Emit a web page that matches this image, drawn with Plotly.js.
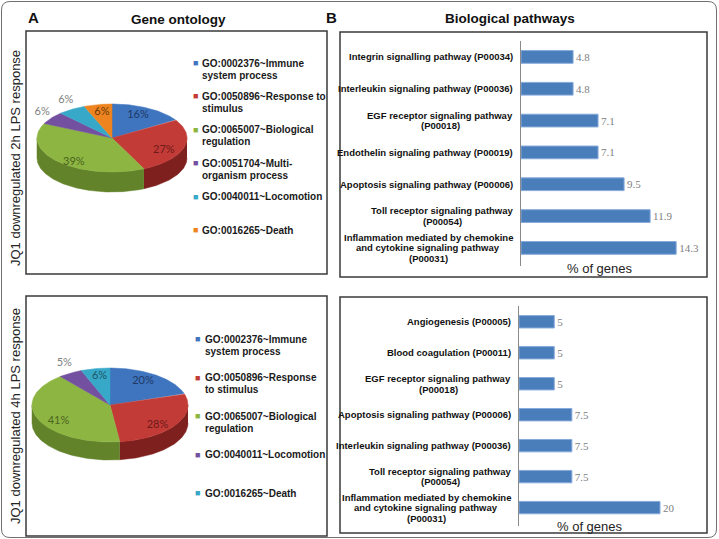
<!DOCTYPE html>
<html>
<head>
<meta charset="utf-8">
<script src="https://cdn.plot.ly/plotly-3.0.1.min.js"></script>
<style>
  html, body { margin: 0; padding: 0; background: #ffffff; }
  #fig { width: 719px; height: 539px; }
</style>
</head>
<body>
<div id="fig"></div>
<script>
// ---- Gene ontology shares (%), JQ1 downregulated genes ----
const goLegend2h = [
  "GO:0002376~Immune<br>system process",
  "GO:0050896~Response to<br>stimulus",
  "GO:0065007~Biological<br>regulation",
  "GO:0051704~Multi-<br>organism process",
  "GO:0040011~Locomotion",
  "GO:0016265~Death"
];
const goShare2h = [16, 27, 39, 6, 6, 6];

const goLegend4h = [
  "GO:0002376~Immune<br>system process",
  "GO:0050896~Response<br>to stimulus",
  "GO:0065007~Biological<br>regulation",
  "GO:0040011~Locomotion",
  "GO:0016265~Death"
];
const goShare4h = [20, 28, 41, 5, 6];

// ---- Panther pathways (% of genes) ----
const pathways2h = [
  "Integrin signalling pathway (P00034)",
  "Interleukin signaling pathway (P00036)",
  "EGF receptor signaling pathway<br>(P00018)",
  "Endothelin signaling pathway (P00019)",
  "Apoptosis signaling pathway (P00006)",
  "Toll receptor signaling pathway<br>(P00054)",
  "Inflammation mediated by chemokine<br>and cytokine signaling pathway<br>(P00031)"
];
const pathwayPct2h = [4.8, 4.8, 7.1, 7.1, 9.5, 11.9, 14.3];

const pathways4h = [
  "Angiogenesis (P00005)",
  "Blood coagulation (P00011)",
  "EGF receptor signaling pathway<br>(P00018)",
  "Apoptosis signaling pathway (P00006)",
  "Interleukin signaling pathway (P00036)",
  "Toll receptor signaling pathway<br>(P00054)",
  "Inflammation mediated by chemokine<br>and cytokine signaling pathway<br>(P00031)"
];
const pathwayPct4h = [5, 5, 5, 7.5, 7.5, 7.5, 20];

// ---- styling: series colours follow slice order ----
const faceColors = ['#3F74BE', '#C23B37', '#8DB542', '#7351A0', '#37A8C8', '#EE8420'];
const rimColors  = ['#2A5088', '#7E201E', '#62832A', '#4D3570', '#247A93', '#A85810'];
const inkColors  = ['#1E3A66', '#6E1A18', '#4A6420', '#3A2A5A', '#1D5566', '#6B3A08'];
const place2h = ['in', 'in', 'in', 'out', 'out', 'in'];
const place4h = ['in', 'in', 'in', 'out', 'in'];

const W = 719, H = 539;
const FONT = 'Liberation Sans, Arial, sans-serif';
const NARROW = 'Liberation Sans Narrow, Arial Narrow, Liberation Sans, sans-serif';

// Tilted pie: elliptical top face plus the visible front rim.
function tiltedPie(shares, placement, g) {
  const out = [];
  const total = shares.reduce((a, b) => a + b, 0);
  const TWO_PI = 2 * Math.PI, step = Math.PI / 180;
  const pt = (a, dy) => [g.cx + g.rx * Math.sin(a), g.cy - g.ry * Math.cos(a) + (dy || 0)];
  let acc = 0;
  const slices = shares.map(v => { const a0 = acc / total * TWO_PI; acc += v; return [a0, acc / total * TWO_PI]; });

  slices.forEach(([a0, a1], i) => {
    const s = Math.max(a0, Math.PI / 2), e = Math.min(a1, 1.5 * Math.PI);
    if (e <= s) return;
    const n = Math.max(2, Math.ceil((e - s) / step));
    const xs = [], ys = [];
    for (let k = 0; k <= n; k++) { const p = pt(s + (e - s) * k / n); xs.push(p[0]); ys.push(p[1]); }
    for (let k = n; k >= 0; k--) { const p = pt(s + (e - s) * k / n, g.depth); xs.push(p[0]); ys.push(p[1]); }
    const c = rimColors[i];
    out.push({ type: 'scatter', mode: 'lines', x: xs, y: ys, fill: 'toself', fillcolor: c,
               line: { color: c, width: 0.5 }, hoverinfo: 'skip', xaxis: 'x', yaxis: 'y' });
  });

  slices.forEach(([a0, a1], i) => {
    const n = Math.max(2, Math.ceil((a1 - a0) / step));
    const xs = [g.cx], ys = [g.cy];
    for (let k = 0; k <= n; k++) { const p = pt(a0 + (a1 - a0) * k / n); xs.push(p[0]); ys.push(p[1]); }
    xs.push(g.cx); ys.push(g.cy);
    const c = faceColors[i];
    out.push({ type: 'scatter', mode: 'lines', x: xs, y: ys, fill: 'toself', fillcolor: c,
               line: { color: c, width: 0.5 }, hoverinfo: 'skip', xaxis: 'x', yaxis: 'y' });
  });

  const lx = [], ly = [], lt = [], lc = [];
  slices.forEach(([a0, a1], i) => {
    const m = (a0 + a1) / 2, inside = placement[i] === 'in';
    const fx = inside ? 0.72 : 1.15, fy = inside ? 0.78 : 1.3;
    lx.push(g.cx + g.rx * fx * Math.sin(m));
    ly.push(g.cy - g.ry * fy * Math.cos(m) + (inside && Math.cos(m) < 0 ? 5 : 0));
    lt.push(Math.round(shares[i] / total * 100) + '%');
    lc.push(inside ? inkColors[i] : '#808080');
  });
  out.push({ type: 'scatter', mode: 'text', x: lx, y: ly, text: lt,
             textfont: { family: 'Lato, Open Sans, sans-serif', size: 11, color: lc },
             hoverinfo: 'skip', xaxis: 'x', yaxis: 'y' });
  return out;
}

// Legend entries drawn as coloured squares and bold text lines.
function legendNotes(labels, g) {
  const notes = [];
  labels.forEach((lab, i) => {
    const y0 = g.y0 + i * g.dy;
    notes.push({ xref: 'x', yref: 'y', x: g.mx, y: y0, text: '■', showarrow: false,
                 font: { family: FONT, size: 9, color: faceColors[i] }, xanchor: 'center', yanchor: 'middle' });
    lab.split('<br>').forEach((line, j) => {
      notes.push({ xref: 'x', yref: 'y', x: g.tx, y: y0 + j * 12, text: '<b>' + line + '</b>', showarrow: false,
                   font: { family: FONT, size: 10, color: '#1a1a1a' }, xanchor: 'left', yanchor: 'middle' });
    });
  });
  return notes;
}

function barTrace(names, vals, xa, ya) {
  return {
    type: 'bar', orientation: 'h', x: vals, y: names, xaxis: xa, yaxis: ya, width: 0.4,
    marker: { color: '#4A7EBB', line: { color: '#86AADB', width: 1 } },
    text: vals.map(String), textposition: 'outside', cliponaxis: false,
    textfont: { family: 'Liberation Serif, DejaVu Serif, serif', size: 11, color: '#808080' },
    hoverinfo: 'skip'
  };
}

// Category labels: each block centred on itself, right-aligned against the axis.
function pathwayNotes(names, xa, ya) {
  const notes = [];
  names.forEach((n, i) => {
    const lines = n.split('<br>');
    const widest = lines.reduce((a, b) => (b.length > a.length ? b : a), '');
    lines.forEach((line, j) => {
      notes.push({
        xref: xa, yref: ya, x: 0, y: i, xanchor: 'center', yanchor: 'middle',
        xshift: -8 - measure(widest) / 2, yshift: ((lines.length - 1) / 2 - j) * 10.6,
        showarrow: false, text: '<b>' + line + '</b>',
        font: { family: NARROW, size: 9.5, color: '#111111' }
      });
    });
  });
  return notes;
}

const ctx = document.createElement('canvas').getContext('2d');
function measure(s) {
  ctx.font = 'bold 9.5px ' + NARROW;
  return ctx.measureText(s).width;
}

const pie2h = { cx: 112, cy: 138, rx: 75, ry: 34, depth: 20 };
const pie4h = { cx: 110, cy: 405, rx: 78, ry: 37, depth: 18 };

const traces = [
  ...tiltedPie(goShare2h, place2h, pie2h),
  ...tiltedPie(goShare4h, place4h, pie4h),
  barTrace(pathways2h, pathwayPct2h, 'x2', 'y2'),
  barTrace(pathways4h, pathwayPct4h, 'x3', 'y3')
];

const box = (x0, y0, x1, y1) => ({ type: 'rect', xref: 'x', yref: 'y', x0, y0, x1, y1,
                                    line: { color: '#3a3a3a', width: 1.5 }, fillcolor: 'rgba(0,0,0,0)' });

const hidden = { visible: false, fixedrange: true };
const layout = {
  width: W, height: H,
  margin: { l: 0, r: 0, t: 0, b: 0 },
  paper_bgcolor: '#ffffff', plot_bgcolor: 'rgba(0,0,0,0)',
  showlegend: false,
  font: { family: FONT },
  xaxis: Object.assign({ domain: [0, 1], range: [0, W] }, hidden),
  yaxis: Object.assign({ domain: [0, 1], range: [H, 0] }, hidden),
  xaxis2: { domain: [521 / W, (521 + 17 * 10.85) / W], range: [0, 17], anchor: 'y2',
            showgrid: false, zeroline: false, showline: false, showticklabels: false, ticks: '', fixedrange: true },
  yaxis2: { domain: [1 - 266 / H, 1 - 41 / H], anchor: 'x2', type: 'category', autorange: 'reversed',
            showgrid: false, zeroline: false, showline: true, linecolor: '#8a8a8a', linewidth: 1,
            showticklabels: false, ticks: '', fixedrange: true },
  xaxis3: { domain: [519 / W, (519 + 26 * 7.05) / W], range: [0, 26], anchor: 'y3',
            showgrid: false, zeroline: false, showline: false, showticklabels: false, ticks: '', fixedrange: true },
  yaxis3: { domain: [1 - 525.7 / H, 1 - 306.3 / H], anchor: 'x3', type: 'category', autorange: 'reversed',
            showgrid: false, zeroline: false, showline: true, linecolor: '#8a8a8a', linewidth: 1,
            showticklabels: false, ticks: '', fixedrange: true },
  shapes: [
    { type: 'path', xref: 'x', yref: 'y',
      path: 'M 10 1.5 H 708 Q 716.5 1.5 716.5 10 V 529 Q 716.5 537.5 708 537.5 H 10 Q 1.5 537.5 1.5 529 V 10 Q 1.5 1.5 10 1.5 Z',
      line: { color: '#707070', width: 1 } },
    box(26, 31, 327, 274),
    box(340, 32, 707, 277),
    box(26, 296, 327, 536),
    box(340, 297, 707, 533)
  ],
  annotations: [
    { xref: 'x', yref: 'y', x: 26, y: 17, text: '<b>A</b>', showarrow: false, xanchor: 'left', yanchor: 'middle',
      font: { family: FONT, size: 15, color: '#111' } },
    { xref: 'x', yref: 'y', x: 178, y: 19, text: '<b>Gene ontology</b>', showarrow: false, xanchor: 'center', yanchor: 'middle',
      font: { family: FONT, size: 13.5, color: '#111' } },
    { xref: 'x', yref: 'y', x: 331, y: 17, text: '<b>B</b>', showarrow: false, xanchor: 'center', yanchor: 'middle',
      font: { family: FONT, size: 15, color: '#111' } },
    { xref: 'x', yref: 'y', x: 510, y: 18, text: '<b>Biological pathways</b>', showarrow: false, xanchor: 'center', yanchor: 'middle',
      font: { family: FONT, size: 13.5, color: '#111' } },
    { xref: 'x', yref: 'y', x: 15, y: 158, text: 'JQ1 downregulated 2h LPS response', textangle: -90, showarrow: false,
      xanchor: 'center', yanchor: 'middle', font: { family: FONT, size: 13, color: '#222' } },
    { xref: 'x', yref: 'y', x: 15, y: 416, text: 'JQ1 downregulated 4h LPS response', textangle: -90, showarrow: false,
      xanchor: 'center', yanchor: 'middle', font: { family: FONT, size: 13, color: '#222' } },
    { xref: 'x', yref: 'y', x: 600, y: 268, text: '% of genes', showarrow: false, xanchor: 'center', yanchor: 'middle',
      font: { family: FONT, size: 13, color: '#222' } },
    { xref: 'x', yref: 'y', x: 590, y: 526, text: '% of genes', showarrow: false, xanchor: 'center', yanchor: 'middle',
      font: { family: FONT, size: 13, color: '#222' } },
    ...legendNotes(goLegend2h, { mx: 195, tx: 200, y0: 63, dy: 33.4 }),
    ...legendNotes(goLegend4h, { mx: 197, tx: 203, y0: 339, dy: 38.5 }),
    ...pathwayNotes(pathways2h, 'x2', 'y2'),
    ...pathwayNotes(pathways4h, 'x3', 'y3')
  ]
};

Plotly.newPlot('fig', traces, layout, { staticPlot: true, displayModeBar: false });
</script>
</body>
</html>
